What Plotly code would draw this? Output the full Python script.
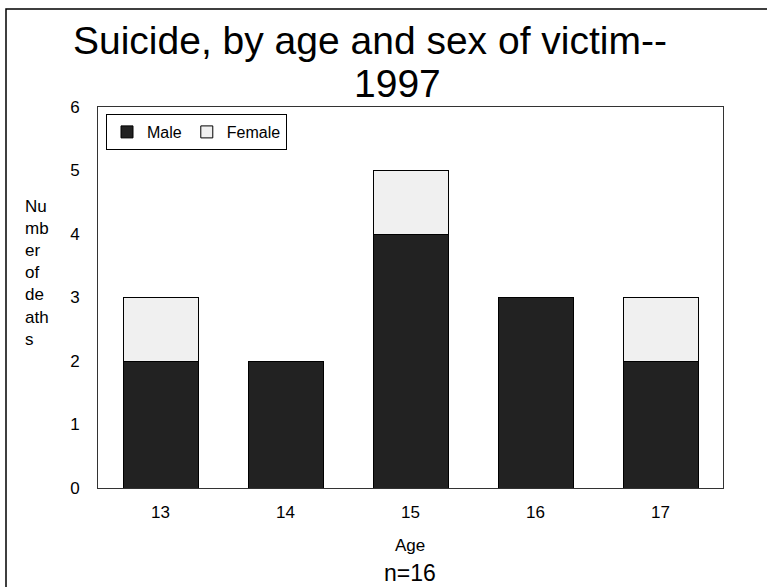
import plotly.graph_objects as go

# Suicide counts by age and sex, 1997
ages = ["13", "14", "15", "16", "17"]
male = [2, 2, 4, 3, 2]
female = [1, 0, 1, 0, 1]
y_ticks = [0, 1, 2, 3, 4, 5, 6]

W, H = 767, 587
L, R, T, B = 98, 723, 107, 488  # plot-area pixel edges


def px(x):
    return (x - L) / (R - L)


def py(y):
    return (B - y) / (B - T)


FONT = "Liberation Sans, Arial, sans-serif"

fig = go.Figure()
fig.add_trace(go.Bar(
    x=ages, y=male, name="Male",
    marker=dict(color="#222222", line=dict(color="#000000", width=1)),
))
fig.add_trace(go.Bar(
    x=ages, y=female, name="Female",
    marker=dict(color="#f0f0f0", line=dict(color="#000000", width=1)),
))


def label(text, x, y, size, **kw):
    return dict(text=text, xref="paper", yref="paper", x=px(x), y=py(y),
                xanchor=kw.pop("xanchor", "center"), yanchor="middle",
                showarrow=False, font=dict(size=size), **kw)


fig.update_layout(
    width=W, height=H,
    barmode="stack", bargap=0.4,
    plot_bgcolor="white", paper_bgcolor="white",
    margin=dict(l=L, r=W - R, t=T, b=H - B, pad=0),
    font=dict(family=FONT, size=17, color="black"),
    showlegend=True,
    legend=dict(
        orientation="h", x=px(106), y=py(114), xanchor="left", yanchor="top",
        bordercolor="black", borderwidth=1, bgcolor="white",
        font=dict(size=16), itemwidth=30, traceorder="normal",
    ),
    xaxis=dict(
        showline=True, linecolor="#333333", linewidth=1, mirror=True,
        ticks="", ticklabelstandoff=9, tickfont=dict(size=17),
        showgrid=False,
    ),
    yaxis=dict(
        range=[0, 6], tickvals=y_ticks, showline=True, linecolor="#333333",
        linewidth=1, mirror=True, ticks="", ticklabelstandoff=14,
        tickfont=dict(size=17), showgrid=False, zeroline=False,
    ),
    shapes=[dict(
        type="rect", xref="paper", yref="paper",
        x0=px(6), y0=py(600), x1=px(780), y1=py(9),
        line=dict(color="black", width=1.5), fillcolor="rgba(0,0,0,0)",
        layer="below",
    )],
    annotations=[
        label("Suicide, by age and sex of victim--", 370, 40, 39),
        label("1997", 397, 84, 39),
        label("Nu<br>mb<br>er<br>of<br>de<br>ath<br>s", 23, 273, 17,
              xanchor="left", align="left"),
        label("Age", 410, 545, 17),
        label("n=16", 410, 573, 23),
    ],
)

fig.write_html("out.html")
